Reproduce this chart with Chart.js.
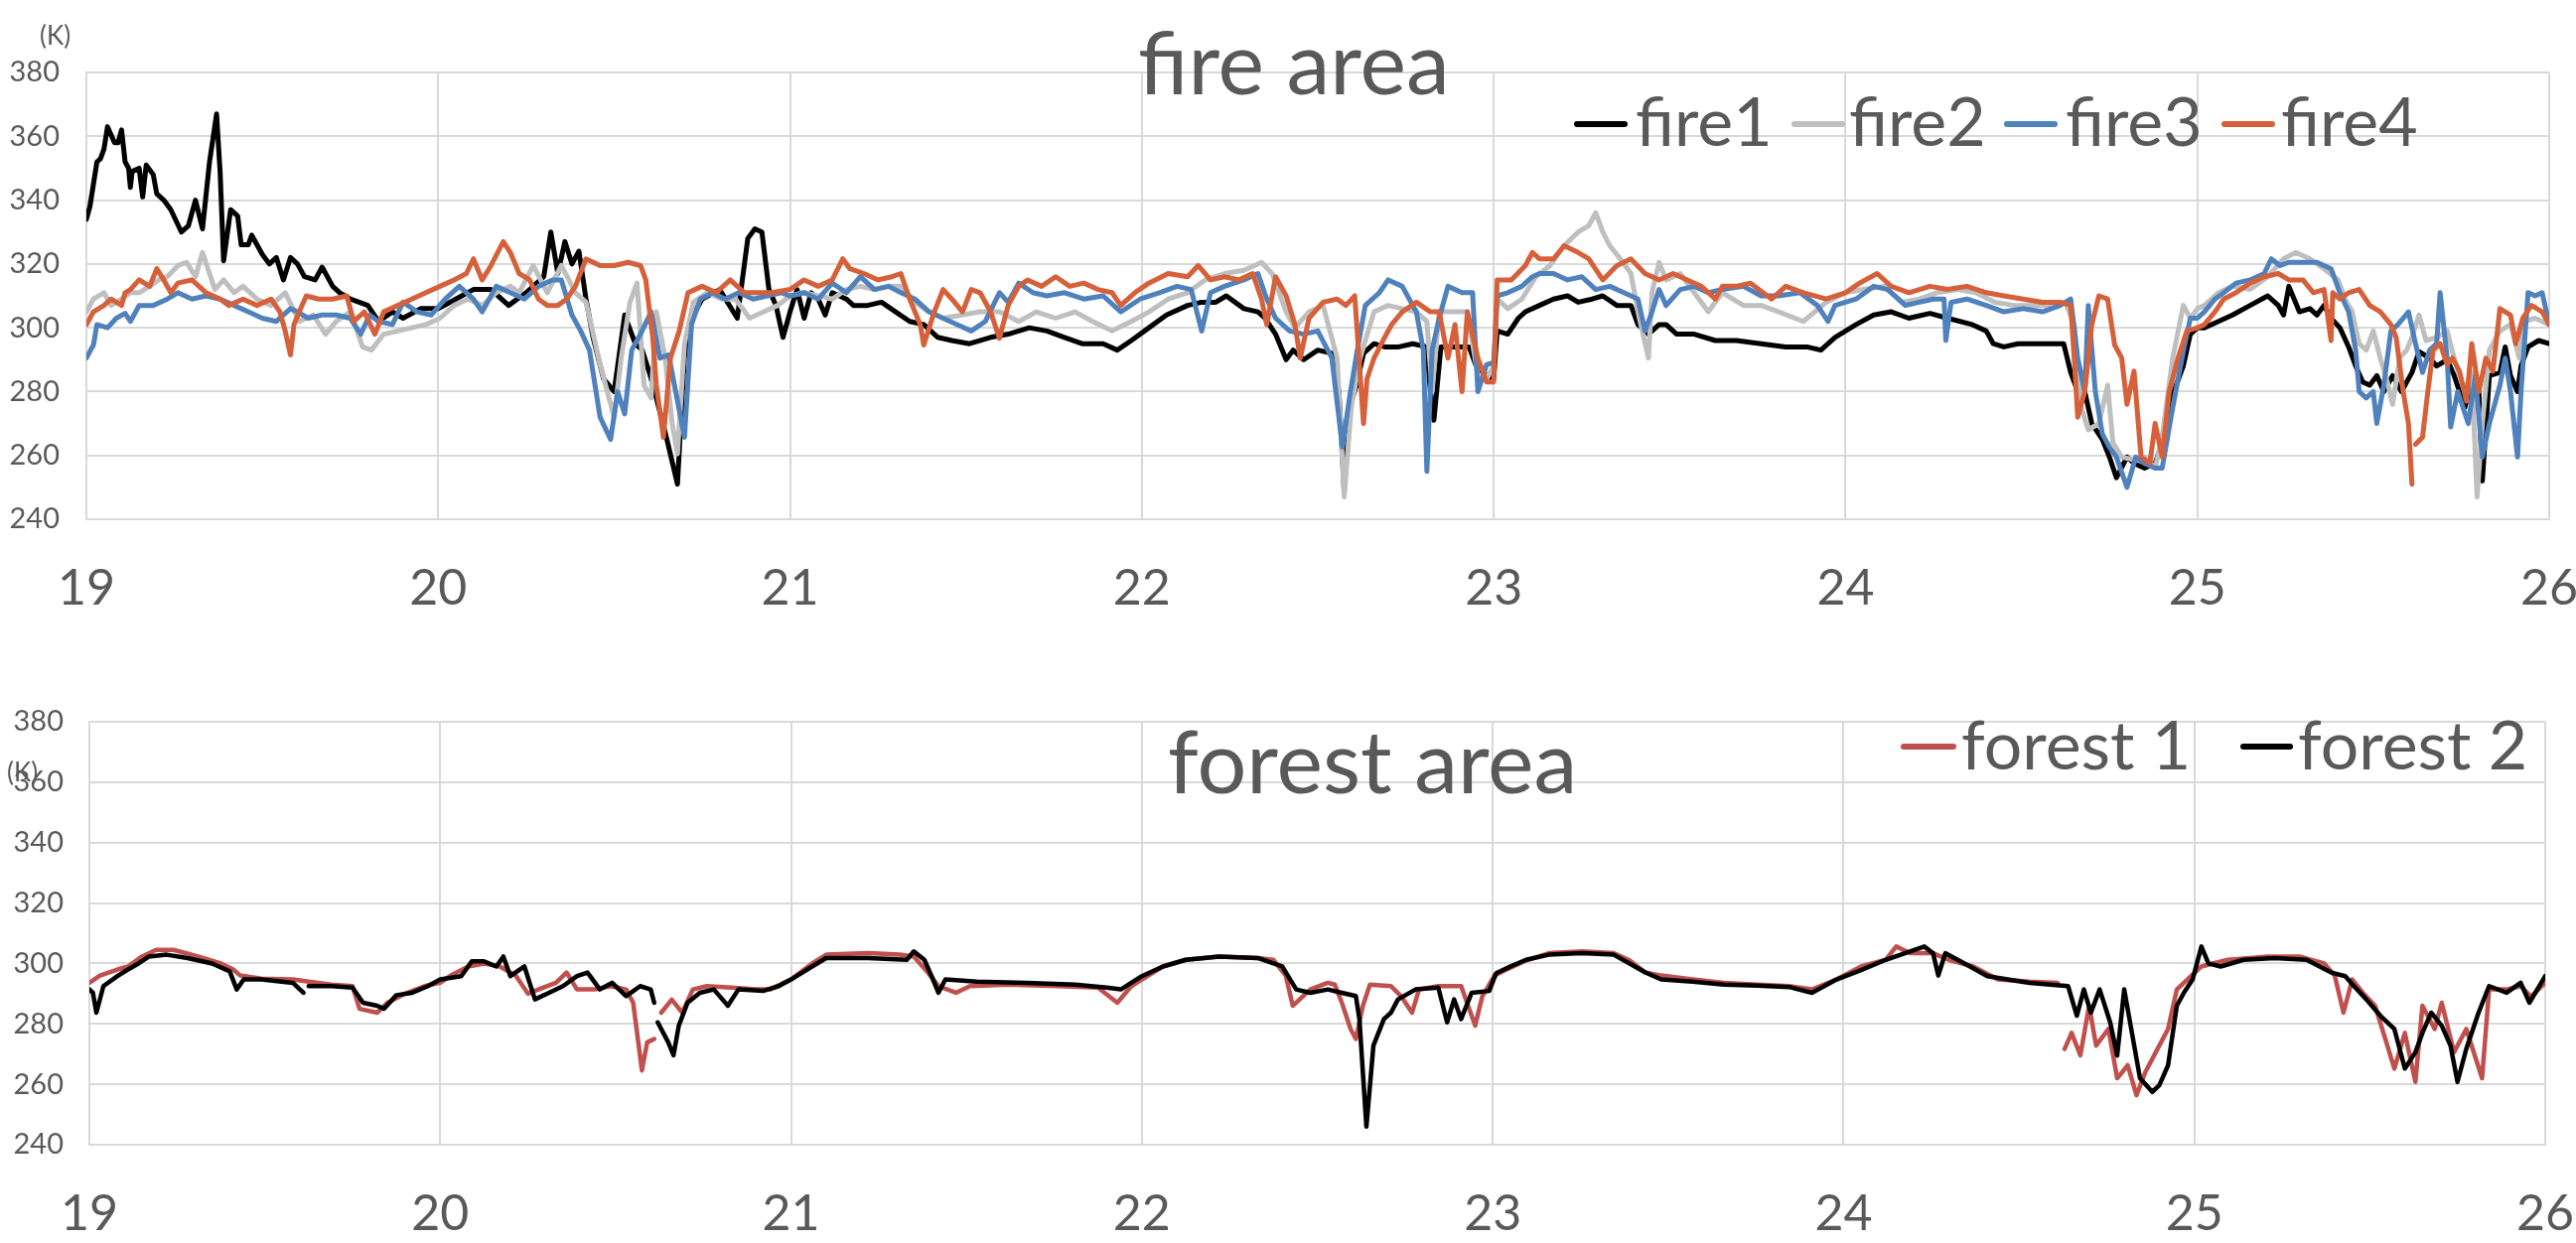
<!DOCTYPE html>
<html>
<head>
    <title>fire area / forest area</title>
    <script src="https://cdn.jsdelivr.net/npm/chart.js"></script>
    <style>
        body {
            margin: 0;
            width: 2594px;
            height: 1252px;
            overflow: hidden;
            background-color: #ffffff;
            font-family: Lato, 'Open Sans', sans-serif;
            color: #595959;
        }
        .panel { position: absolute; left: 0; }
        .txt { position: absolute; line-height: 1; white-space: nowrap; }
        .title { font-size: 88px; }
        .unit { font-size: 26px; }
        .leg { font-size: 68px; }
        .swatch { position: absolute; height: 6px; border-radius: 3px; }
    </style>
</head>
<body>
    <div class="panel" style="top:0;"><canvas id="fireChart" width="2594" height="640"></canvas></div>
    <div class="panel" style="top:640px;"><canvas id="forestChart" width="2594" height="612"></canvas></div>

    <!-- titles, units and legends -->
    <div class="txt unit" style="left:40px; top:22px;">(K)</div>
    <div class="txt title" style="left:1146px; top:17px;">fire area</div>
    <div class="swatch" style="left:1585px; top:122px; width:54px; background:#000000;"></div>
    <div class="txt leg" style="left:1647px; top:87px;">fire1</div>
    <div class="swatch" style="left:1804px; top:122px; width:54px; background:#BFBFBF;"></div>
    <div class="txt leg" style="left:1862px; top:87px;">fire2</div>
    <div class="swatch" style="left:2018px; top:122px; width:54px; background:#4F81BD;"></div>
    <div class="txt leg" style="left:2080px; top:87px;">fire3</div>
    <div class="swatch" style="left:2237px; top:122px; width:54px; background:#D5603A;"></div>
    <div class="txt leg" style="left:2297px; top:87px;">fire4</div>

    <div class="txt unit" style="left:7px; top:764px;">(K)</div>
    <div class="txt title" style="left:1176px; top:721px;">forest area</div>
    <div class="swatch" style="left:1914px; top:749px; width:56px; background:#C0504D;"></div>
    <div class="txt leg" style="left:1975px; top:715px;">forest 1</div>
    <div class="swatch" style="left:2256px; top:749px; width:53px; background:#000000;"></div>
    <div class="txt leg" style="left:2314px; top:715px;">forest 2</div>

    <script>
        // [day, temperature K]
        const fire1 = [
            [19.00,334],[19.01,338],[19.03,352],[19.04,353],[19.05,356],[19.06,363],[19.08,358],[19.09,358],[19.10,362],[19.11,352],[19.12,350],[19.125,344],[19.13,349],[19.15,350],[19.16,341],[19.17,351],[19.19,348],[19.20,342],[19.22,340],[19.24,337],[19.27,330],[19.29,332],[19.31,340],[19.33,331],[19.35,352],[19.37,367],[19.38,349],[19.39,321],[19.41,337],[19.43,335],[19.44,326],[19.46,326],[19.47,329],[19.50,323],[19.52,320],[19.54,322],[19.56,315],[19.58,322],[19.60,320],[19.62,316],[19.65,315],[19.67,319],[19.70,313],[19.72,311],[19.75,309],[19.80,307],[19.83,302],[19.87,305],[19.90,303],[19.95,306],
            [20.00,306],[20.05,309],[20.10,312],[20.15,312],[20.20,307],[20.25,311],[20.30,316],[20.32,330],[20.34,317],[20.36,327],[20.38,320],[20.40,324],[20.42,309],[20.44,297],[20.47,284],[20.50,280],[20.53,304],[20.56,295],[20.58,293],[20.60,286],[20.62,278],[20.65,265],[20.68,251],[20.70,291],[20.72,303],[20.75,309],[20.80,312],[20.85,303],[20.88,328],[20.90,331],[20.92,330],[20.94,312],[20.96,307],[20.98,297],
            [21.00,305],[21.02,312],[21.04,303],[21.06,311],[21.08,309],[21.10,304],[21.12,311],[21.16,309],[21.18,307],[21.22,307],[21.26,308],[21.30,305],[21.34,302],[21.38,301],[21.42,297],[21.46,296],[21.51,295],[21.57,297],[21.62,298],[21.68,300],[21.73,299],[21.78,297],[21.83,295],[21.89,295],[21.93,293],[21.97,296],
            [22.02,300],[22.07,304],[22.13,307],[22.17,308],[22.21,308],[22.24,310],[22.29,306],[22.33,305],[22.35,303],[22.38,298],[22.41,290],[22.43,293],[22.46,290],[22.50,293],[22.54,292],[22.56,280],[22.575,249],[22.59,275],[22.61,282],[22.63,292],[22.66,295],[22.69,294],[22.73,294],[22.77,295],[22.81,294],[22.82,280],[22.83,271],[22.85,294],[22.89,294],[22.93,294],[22.95,288],[22.98,285],
            [23.00,284],[23.01,299],[23.04,298],[23.07,303],[23.09,305],[23.13,307],[23.17,309],[23.21,310],[23.24,308],[23.28,309],[23.31,310],[23.35,307],[23.39,307],[23.41,301],[23.44,298],[23.47,301],[23.49,301],[23.52,298],[23.57,298],[23.63,296],[23.69,296],[23.76,295],[23.83,294],[23.89,294],[23.93,293],[23.97,297],
            [24.03,301],[24.08,304],[24.13,305],[24.18,303],[24.24,304.5],[24.29,303],[24.36,301],[24.40,299],[24.42,295],[24.45,294],[24.49,295],[24.56,295],[24.62,295],[24.64,286],[24.66,280],[24.68,280],[24.70,270],[24.73,265],[24.75,259.5],[24.77,253],[24.80,259.5],[24.82,257.5],[24.85,256],[24.88,257.5],[24.90,264],[24.93,279],[24.96,288],[24.98,298],
            [25.00,300],[25.02,300],[25.06,302],[25.10,304],[25.15,307],[25.20,310],[25.23,307],[25.245,304],[25.26,313],[25.29,305],[25.32,306],[25.34,304],[25.36,307],[25.38,303],[25.405,300],[25.43,294],[25.45,288],[25.47,283],[25.49,282],[25.51,285],[25.53,280],[25.555,285],[25.58,280],[25.61,286],[25.63,292.5],[25.66,290.5],[25.68,288],[25.71,290],[25.73,285],[25.76,275],[25.78,283],[25.80,280],[25.81,252],[25.83,285],[25.86,286],[25.875,294],[25.89,285],[25.91,280],[25.92,288],[25.94,294],[25.97,296],[26.00,295]
        ];
        const fire2 = [
            [19.00,305],[19.02,309],[19.05,311],[19.07,307],[19.10,309],[19.125,311],[19.15,311],[19.18,313],[19.205,315],[19.23,316],[19.26,319.5],[19.285,320.5],[19.31,316],[19.33,323.6],[19.35,317],[19.365,312],[19.39,315],[19.42,311],[19.445,313],[19.485,309],[19.525,307],[19.565,311],[19.605,302],[19.645,304],[19.68,298],[19.71,302],[19.75,305],[19.785,294],[19.81,293],[19.845,298],[19.885,299],[19.925,300],[19.965,301],
            [20.005,303],[20.045,307],[20.085,309],[20.125,307],[20.165,311],[20.205,313],[20.23,311],[20.27,319.5],[20.31,311],[20.35,319.5],[20.39,311],[20.42,308],[20.46,288.5],[20.50,272],[20.52,290.5],[20.545,308],[20.565,314],[20.585,282],[20.605,278],[20.62,305],[20.645,290.5],[20.665,270],[20.68,260.5],[20.70,295],[20.725,308],[20.765,311],[20.805,309],[20.845,309],[20.885,303],[20.925,305],[20.965,307],
            [21.00,310],[21.04,311],[21.08,310],[21.12,309],[21.16,312],[21.20,313],[21.24,312],[21.28,313],[21.315,313],[21.355,308],[21.395,305],[21.435,303],[21.49,304],[21.54,305],[21.595,305],[21.65,302],[21.70,305],[21.755,303],[21.81,305],[21.86,302],[21.915,299],[21.97,302],
            [22.02,305],[22.075,309],[22.13,311],[22.18,315],[22.235,317],[22.29,318],[22.34,320.5],[22.37,317],[22.41,305],[22.435,300],[22.475,305],[22.515,307],[22.555,290.5],[22.575,247],[22.595,275],[22.62,290.5],[22.66,305],[22.70,307],[22.74,306],[22.78,305],[22.81,302],[22.825,280],[22.845,305],[22.89,305],[22.925,305],[22.955,285],[22.98,284],
            [23.00,288],[23.01,309],[23.04,306],[23.08,309],[23.12,316],[23.16,319.5],[23.20,325.7],[23.24,330],[23.27,332],[23.29,336],[23.31,330],[23.33,325.7],[23.36,321.6],[23.39,317],[23.41,305],[23.44,290.5],[23.45,311],[23.47,320.5],[23.49,315],[23.53,317],[23.57,311],[23.61,305],[23.65,311],[23.71,307],[23.76,307],[23.81,305],[23.88,302],[23.945,308],
            [24.00,311],[24.05,312],[24.11,313],[24.16,308],[24.21,309],[24.26,311],[24.32,312],[24.37,311],[24.425,308],[24.48,307],[24.53,307],[24.585,307],[24.625,308],[24.65,301],[24.67,275],[24.69,268],[24.72,270],[24.745,282],[24.76,264],[24.785,259.5],[24.825,258.5],[24.85,259.5],[24.88,256],[24.90,266],[24.93,290.5],[24.96,307],[24.98,303],
            [25.00,306],[25.02,307],[25.06,311],[25.10,313],[25.15,312],[25.20,316],[25.245,321.6],[25.28,323.6],[25.32,321.6],[25.36,318.5],[25.40,315],[25.42,309],[25.44,305],[25.46,295],[25.48,293],[25.50,299],[25.52,290.5],[25.54,283],[25.555,276],[25.575,290.5],[25.595,293],[25.61,297],[25.63,304],[25.65,296],[25.68,297],[25.71,299],[25.73,290.5],[25.76,280],[25.78,286],[25.795,247],[25.81,270],[25.83,293],[25.86,299],[25.89,301],[25.915,290.5],[25.93,302],[25.96,303],[26.00,301]
        ];
        const fire3 = [
            [19.00,290.5],[19.02,294.6],[19.03,301],[19.06,300],[19.085,303],[19.11,304.5],[19.125,302],[19.15,307],[19.19,307],[19.23,309],[19.26,311],[19.30,309],[19.34,310],[19.38,309],[19.42,307],[19.46,305],[19.50,303],[19.54,302],[19.58,306],[19.60,305],[19.63,303],[19.67,304],[19.71,304],[19.75,303],[19.78,298],[19.805,304],[19.83,302],[19.87,301],[19.90,308],[19.94,305],[19.98,304],
            [20.02,309],[20.06,313],[20.10,309],[20.125,305],[20.165,313],[20.205,311],[20.245,309],[20.285,313],[20.325,315],[20.35,315],[20.38,304],[20.405,299],[20.43,293],[20.46,272],[20.49,265],[20.51,280],[20.53,273],[20.55,293],[20.575,298],[20.605,305],[20.63,290.5],[20.655,291.5],[20.675,280],[20.70,265.7],[20.72,301],[20.745,309],[20.78,311],[20.815,309],[20.855,311],[20.895,309],[20.935,310],[20.975,311],
            [21.00,310],[21.04,311],[21.08,309],[21.12,314],[21.16,311],[21.20,316],[21.24,312],[21.28,313],[21.315,311],[21.355,309],[21.395,305],[21.435,303],[21.475,301],[21.515,299],[21.555,302],[21.595,311],[21.62,308],[21.65,314],[21.69,311],[21.73,310],[21.78,311],[21.835,309],[21.89,310],[21.94,305],[21.995,309],
            [22.05,311],[22.10,313],[22.14,312],[22.17,299],[22.195,311],[22.235,313],[22.29,315],[22.33,317],[22.355,309],[22.38,303],[22.42,299],[22.46,298],[22.50,299],[22.54,290.5],[22.57,262.6],[22.59,278],[22.61,291.5],[22.635,307],[22.675,311],[22.70,315],[22.74,313],[22.78,305],[22.80,293],[22.81,255],[22.825,293],[22.845,303],[22.87,313],[22.91,311],[22.94,311],[22.955,280],[22.98,288.5],
            [23.00,289],[23.01,310],[23.04,311],[23.08,313],[23.11,316],[23.13,317],[23.17,317],[23.21,315],[23.25,316],[23.29,312],[23.33,313],[23.37,311],[23.41,309],[23.43,299],[23.45,305],[23.47,312],[23.49,307],[23.53,312],[23.57,313],[23.61,311],[23.65,312],[23.71,313],[23.76,310],[23.81,310],[23.87,311],[23.92,307],[23.95,302],[23.97,307],
            [24.03,309],[24.08,313],[24.12,312],[24.17,307],[24.21,308],[24.25,309],[24.28,309],[24.285,296],[24.30,308],[24.345,309],[24.40,307],[24.45,305],[24.505,306],[24.56,305],[24.61,307],[24.64,309],[24.66,290.5],[24.68,280],[24.69,307],[24.71,280],[24.73,266.7],[24.75,262.6],[24.77,259.5],[24.80,250],[24.825,259.5],[24.85,257.5],[24.88,256],[24.90,256],[24.93,275],[24.96,292.6],[24.98,303],
            [25.00,303],[25.02,305],[25.05,309],[25.075,311],[25.11,314],[25.15,315],[25.19,317],[25.21,321.6],[25.235,319.5],[25.26,320.5],[25.30,320.5],[25.34,320.5],[25.38,318.5],[25.405,311],[25.43,305],[25.45,293],[25.46,280],[25.48,278],[25.50,280],[25.51,270],[25.53,282],[25.55,299],[25.57,301],[25.60,305],[25.62,295],[25.64,286],[25.66,293],[25.68,295],[25.69,311],[25.71,290.5],[25.72,268.9],[25.74,280],[25.77,270],[25.79,285],[25.81,259.5],[25.83,270],[25.86,282],[25.875,290.5],[25.89,280],[25.91,259.5],[25.92,280],[25.94,311],[25.96,310],[25.98,311],[26.00,301]
        ];
        const fire4 = [
            [19.00,301],[19.02,305],[19.05,307],[19.07,309],[19.10,307],[19.11,311],[19.125,312],[19.15,315],[19.18,313],[19.20,318.5],[19.22,315],[19.24,311],[19.26,314],[19.30,315],[19.34,311],[19.38,309],[19.405,307],[19.445,309],[19.485,307],[19.525,309],[19.55,305],[19.565,299],[19.58,291.5],[19.59,301],[19.605,305],[19.625,310],[19.66,309],[19.70,309],[19.74,310],[19.76,302],[19.79,305],[19.82,298],[19.845,305],[19.885,307],[19.925,309],[19.965,311],
            [20.005,313],[20.045,315],[20.08,317],[20.10,321.6],[20.125,315],[20.15,319.5],[20.185,327],[20.205,323.6],[20.23,317],[20.26,315],[20.285,309],[20.31,307],[20.34,307],[20.365,309],[20.39,313],[20.42,321.6],[20.46,319.5],[20.50,319.5],[20.54,320.5],[20.575,319.5],[20.59,315],[20.61,296.7],[20.62,282],[20.64,265.7],[20.66,290.5],[20.685,299],[20.71,311],[20.75,313],[20.79,311],[20.83,315],[20.87,311],[20.91,311],[20.95,311],
            [21.00,312],[21.04,315],[21.08,313],[21.12,315],[21.15,321.6],[21.17,318.5],[21.21,317],[21.25,315],[21.29,316],[21.315,317],[21.34,309],[21.37,301],[21.38,294.6],[21.41,305],[21.435,312],[21.46,309],[21.49,305],[21.515,312],[21.54,311],[21.57,305],[21.595,296.7],[21.62,307],[21.65,313],[21.675,315],[21.715,313],[21.755,316],[21.795,313],[21.835,314],[21.875,312],[21.915,311],[21.94,307],[21.98,311],
            [22.02,314],[22.075,317],[22.13,316],[22.16,319.5],[22.195,315],[22.235,316],[22.275,315],[22.315,317],[22.34,309],[22.355,301],[22.38,316],[22.41,310],[22.435,301],[22.45,290.5],[22.475,303],[22.515,308],[22.555,309],[22.58,307],[22.605,310],[22.62,286],[22.63,270],[22.64,284],[22.66,290.5],[22.69,297],[22.71,301],[22.74,305],[22.78,308],[22.82,305],[22.845,305],[22.87,290.5],[22.89,301],[22.91,280],[22.925,305],[22.955,290.5],[22.98,283],
            [23.00,283],[23.01,315],[23.05,315],[23.09,319.5],[23.11,323.6],[23.13,321.6],[23.17,321.6],[23.20,325.7],[23.24,323.6],[23.27,321.6],[23.31,315],[23.35,319.5],[23.39,321.6],[23.43,317],[23.47,315],[23.51,317],[23.55,315],[23.59,313],[23.63,309],[23.65,313],[23.69,313],[23.73,314],[23.79,309],[23.83,313],[23.88,311],[23.945,309],
            [24.00,311],[24.04,314],[24.09,317],[24.13,313],[24.18,311],[24.24,313],[24.29,312],[24.345,313],[24.40,311],[24.45,310],[24.505,309],[24.56,308],[24.61,308],[24.64,307],[24.65,290.5],[24.66,272],[24.68,280],[24.70,301],[24.72,310],[24.745,309],[24.765,294.6],[24.785,290.5],[24.80,276],[24.82,286.4],[24.84,259.5],[24.865,257.5],[24.88,270],[24.90,259.5],[24.92,280],[24.945,290.5],[24.97,299],
            [25.00,300],[25.02,301],[25.05,305],[25.075,309],[25.11,311],[25.15,314],[25.19,316],[25.23,317],[25.26,315],[25.30,315],[25.33,311],[25.36,312],[25.38,296],[25.385,311],[25.405,309],[25.43,311],[25.46,312],[25.49,307],[25.52,305],[25.55,301],[25.565,297],[25.585,280],[25.60,270],[25.61,251],[25.615,null],[25.62,263.5],[25.64,265.7],[25.655,280],[25.67,293],[25.69,295],[25.71,288.5],[25.725,290.5],[25.745,286.4],[25.765,277],[25.78,295],[25.80,280],[25.82,290.5],[25.84,286.4],[25.86,306],[25.89,304],[25.905,295],[25.925,303],[25.95,307],[25.98,305],[26.00,301]
        ];
        const forest1 = [
            [19.00,293.6],[19.03,296],[19.08,298],[19.11,299],[19.15,302.3],[19.19,304.5],[19.24,304.5],[19.31,302.3],[19.375,300],[19.41,298],[19.43,296],[19.49,295],[19.58,294.7],[19.625,294],[19.69,293],[19.75,292.5],[19.77,285],[19.82,283.7],[19.85,287],[19.90,290],[19.955,292.5],
            [20.00,293.6],[20.03,296],[20.08,299],[20.125,300],[20.17,299],[20.215,296],[20.25,290],[20.28,291.4],[20.33,293.6],[20.36,297],[20.39,291.4],[20.44,291.4],[20.485,292.5],[20.53,291.4],[20.55,287],[20.575,264.6],[20.59,273.9],[20.61,275],[20.62,null],[20.63,283.7],[20.66,288],[20.69,283.7],[20.72,291.4],[20.76,292.5],[20.83,292],[20.90,291.4],[20.94,291.4],
            [21.00,294.7],[21.06,300],[21.10,302.9],[21.22,303.4],[21.31,302.9],[21.35,302.3],[21.39,297],[21.42,292.5],[21.47,290.3],[21.51,292.5],[21.62,293],[21.76,292.5],[21.875,292],[21.93,287],[21.97,292.5],
            [22.00,294.7],[22.06,299],[22.125,301.2],[22.22,302.3],[22.33,301.8],[22.375,301.2],[22.41,296],[22.43,286],[22.48,291.4],[22.53,293.6],[22.55,293],[22.57,287],[22.595,278.3],[22.61,275],[22.63,286],[22.65,293],[22.71,292.5],[22.74,289],[22.77,283.7],[22.79,291.4],[22.845,292.5],[22.91,292.5],[22.95,279.4],[22.97,289],
            [23.005,296],[23.04,298],[23.095,301],[23.16,303.4],[23.255,304],[23.345,303.4],[23.39,301],[23.435,297],[23.48,296],[23.57,294.7],[23.66,293.6],[23.755,293],[23.845,292.5],[23.91,291.4],[23.98,294.7],
            [24.05,299],[24.12,301.2],[24.15,305.6],[24.19,303.4],[24.255,303.4],[24.30,301.2],[24.37,299],[24.44,294.7],[24.53,294],[24.61,293.6],[24.62,null],[24.63,271.7],[24.65,277],[24.675,269.6],[24.70,286],[24.72,272.8],[24.755,278.3],[24.78,262],[24.81,266.3],[24.835,256.4],[24.86,264],[24.89,270.6],[24.925,278.3],[24.95,291.4],[24.98,294.7],
            [25.02,299],[25.095,301.2],[25.21,302.3],[25.30,302.3],[25.37,300],[25.40,296],[25.425,283.7],[25.45,294.7],[25.48,290.3],[25.515,286],[25.55,272.8],[25.57,265.2],[25.60,277],[25.63,260.8],[25.65,286],[25.685,278.3],[25.705,287],[25.74,270.6],[25.775,278.3],[25.82,262],[25.84,291.4],[25.89,291.4],[25.93,292.5],[25.96,289],[26.00,293.6]
        ];
        const forest2 = [
            [19.00,291.4],[19.01,290.3],[19.02,283.7],[19.04,292.5],[19.08,295.8],[19.11,298],[19.14,300],[19.17,302.3],[19.22,302.9],[19.28,301.8],[19.35,300],[19.40,297.4],[19.42,291.4],[19.44,294.7],[19.49,294.7],[19.58,293.6],[19.61,290.3],[19.62,null],[19.625,292.5],[19.69,292.5],[19.75,292],[19.78,287],[19.82,286],[19.84,285],[19.875,289.5],[19.92,290.3],[19.965,292.5],
            [20.00,294.7],[20.06,295.8],[20.09,300.7],[20.125,300.7],[20.16,299],[20.18,302.3],[20.20,295.8],[20.24,299],[20.27,288.1],[20.31,290.3],[20.35,292.5],[20.39,295.8],[20.42,297],[20.455,291.4],[20.49,293.6],[20.53,289.2],[20.57,292.5],[20.60,291.4],[20.61,287],[20.615,null],[20.62,280.5],[20.65,273.9],[20.665,269.6],[20.68,279.4],[20.705,287],[20.74,290.3],[20.78,291.4],[20.82,286],[20.85,291.4],[20.92,290.9],[20.965,292.5],
            [21.00,294.7],[21.06,299],[21.10,301.8],[21.22,301.8],[21.33,301.2],[21.35,304],[21.38,301.2],[21.40,296],[21.42,290.3],[21.44,294.7],[21.53,294],[21.67,293.6],[21.81,293],[21.90,292],[21.94,291.4],
            [22.00,295.8],[22.06,299],[22.125,301.2],[22.22,302.3],[22.33,301.8],[22.40,299],[22.44,291.4],[22.48,290.3],[22.53,291.4],[22.57,290.3],[22.61,289.2],[22.62,281.6],[22.64,246],[22.66,272.8],[22.69,281.6],[22.71,283.7],[22.73,288.1],[22.78,291.4],[22.845,292],[22.87,280.5],[22.89,288.1],[22.91,281.6],[22.94,290.3],[22.99,290.9],
            [23.01,296.8],[23.05,299],[23.095,301.2],[23.16,302.9],[23.255,303.4],[23.345,302.9],[23.39,300],[23.435,297],[23.48,294.7],[23.57,294],[23.66,293],[23.755,292.7],[23.845,292.2],[23.91,290.3],[23.98,294.7],
            [24.05,297.8],[24.12,301.2],[24.175,303.4],[24.23,305.6],[24.255,303.4],[24.27,296],[24.29,303.4],[24.345,300],[24.41,295.8],[24.53,293.6],[24.64,292.5],[24.665,282.7],[24.685,291.4],[24.705,283.7],[24.73,291.4],[24.76,280.5],[24.78,269.5],[24.80,291.4],[24.82,278.3],[24.845,262],[24.88,257.5],[24.90,259.7],[24.925,266.3],[24.95,286],[24.97,290.3],[24.995,294.7],
            [25.02,305.6],[25.04,300],[25.075,299],[25.14,301.2],[25.23,301.8],[25.32,301.2],[25.39,297],[25.43,295.8],[25.455,292.5],[25.49,288.1],[25.53,282.7],[25.57,278.3],[25.60,265.2],[25.63,270.6],[25.65,277],[25.675,283.7],[25.705,279.4],[25.73,272.8],[25.75,260.8],[25.775,271.7],[25.81,283.7],[25.84,292.5],[25.89,290.3],[25.93,293.6],[25.955,287],[26.00,295.8]
        ];

        const dayTicks = [19, 20, 21, 22, 23, 24, 25, 26];
        const kTicks = [240, 260, 280, 300, 320, 340, 360, 380];

        const gridColor = '#D9D9D9';
        const textColor = '#595959';

        function toPoints(series) {
            return series.map(p => ({ x: p[0], y: p[1] }));
        }

        // no extra room for overhanging tick labels, the layout padding is set by hand
        function noOverhang(s) {
            s.paddingLeft = 0;
            s.paddingRight = 0;
            s.paddingTop = 0;
            s.paddingBottom = 0;
        }

        function makeChart(id, datasets, box) {
            const ctx = document.getElementById(id).getContext('2d');
            return new Chart(ctx, {
                type: 'line',
                data: { datasets: datasets },
                options: {
                    responsive: false,
                    animation: false,
                    devicePixelRatio: 1,
                    layout: { padding: { top: box.top, right: box.right, left: 0, bottom: 0 } },
                    plugins: {
                        legend: { display: false },
                        tooltip: { enabled: false }
                    },
                    elements: {
                        point: { radius: 0 },
                        line: { tension: 0, borderJoinStyle: 'round', borderCapStyle: 'round' }
                    },
                    scales: {
                        x: {
                            type: 'linear',
                            min: dayTicks[0],
                            max: dayTicks[dayTicks.length - 1],
                            afterFit: s => { s.height = box.xHeight; noOverhang(s); },
                            afterBuildTicks: s => { s.ticks = dayTicks.map(v => ({ value: v })); },
                            ticks: {
                                font: { family: 'Lato', size: 50 },
                                color: textColor,
                                padding: box.xPad,
                                maxRotation: 0
                            },
                            grid: { color: gridColor, lineWidth: 2, drawTicks: false },
                            border: { color: gridColor, width: 2 }
                        },
                        y: {
                            min: kTicks[0],
                            max: kTicks[kTicks.length - 1],
                            afterFit: s => { s.width = box.yWidth; noOverhang(s); },
                            afterBuildTicks: s => { s.ticks = kTicks.map(v => ({ value: v })); },
                            ticks: {
                                font: { family: 'Lato', size: 29 },
                                color: textColor,
                                padding: box.yPad
                            },
                            grid: { color: gridColor, lineWidth: 2, drawTicks: false },
                            border: { color: gridColor, width: 2 }
                        }
                    }
                }
            });
        }

        // later datasets in the legend are drawn on top (lower order = on top)
        makeChart('fireChart', [
            { label: 'fire1', data: toPoints(fire1), borderColor: '#000000', borderWidth: 5, order: 3 },
            { label: 'fire2', data: toPoints(fire2), borderColor: '#BFBFBF', borderWidth: 5, order: 2 },
            { label: 'fire3', data: toPoints(fire3), borderColor: '#4F81BD', borderWidth: 5, order: 1 },
            { label: 'fire4', data: toPoints(fire4), borderColor: '#D5603A', borderWidth: 5, order: 0 }
        ], { top: 73, right: 27, xHeight: 117, xPad: 40, yWidth: 87, yPad: 27 });

        makeChart('forestChart', [
            { label: 'forest 1', data: toPoints(forest1), borderColor: '#C0504D', borderWidth: 4.5, order: 1 },
            { label: 'forest 2', data: toPoints(forest2), borderColor: '#000000', borderWidth: 4.5, order: 0 }
        ], { top: 87, right: 31, xHeight: 99, xPad: 40, yWidth: 90, yPad: 26 });
    </script>
</body>
</html>
